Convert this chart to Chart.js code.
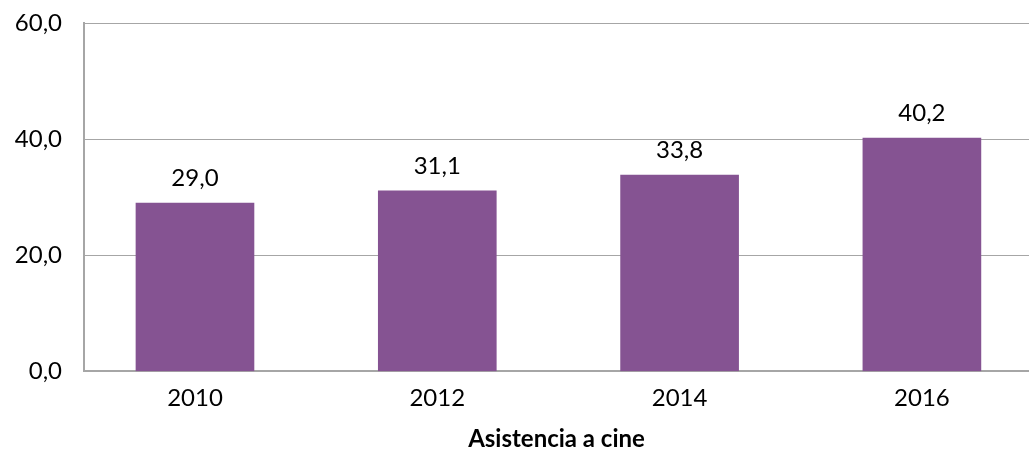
<!DOCTYPE html>
<html>
<head>
<meta charset="utf-8">
<script src="https://cdn.jsdelivr.net/npm/chart.js@4/dist/chart.umd.min.js"></script>
<style>
    html, body { margin: 0; padding: 0; background: #ffffff; overflow: hidden; }
    #wrap { width: 1029px; height: 454px; }
</style>
</head>
<body>
<div id="wrap"><canvas id="chart"></canvas></div>
<script>
// data
const years = ['2010', '2012', '2014', '2016'];
const asistencia = [29.0, 31.1, 33.8, 40.2];
const y_ticks = [0, 20, 40, 60];
const x_title = 'Asistencia a cine';

const bar_color = '#855392';
const line_color = '#a6a6a6';
const font_family = "Lato, 'Noto Sans', sans-serif";

function format_value(v) {
    return v.toFixed(1).replace('.', ',');
}

// value labels above the bars
const bar_labels = {
    id: 'bar_labels',
    afterDatasetsDraw(chart) {
        const ctx = chart.ctx;
        const meta = chart.getDatasetMeta(0);
        ctx.save();
        ctx.font = `24px ${font_family}`;
        ctx.fillStyle = '#000000';
        ctx.textAlign = 'center';
        ctx.textBaseline = 'middle';
        meta.data.forEach((bar, i) => {
            ctx.fillText(format_value(asistencia[i]), bar.x, bar.y - 25);
        });
        ctx.restore();
    }
};

const ctx = document.getElementById('chart');

new Chart(ctx, {
    type: 'bar',
    data: {
        datasets: [{
            label: x_title,
            data: asistencia.map((v, i) => ({ x: i, y: v })),
            backgroundColor: bar_color,
            borderWidth: 0,
            barThickness: 118,
        }]
    },
    options: {
        responsive: true,
        maintainAspectRatio: false,
        animation: false,
        layout: {
            padding: { top: 23, right: 0, bottom: 0, left: 0 }
        },
        plugins: {
            legend: { display: false },
            tooltip: { enabled: false },
            title: { display: false }
        },
        scales: {
            x: {
                type: 'linear',
                offset: false,
                min: -0.458,
                max: 3.442,
                afterBuildTicks: scale => {
                    scale.ticks = years.map((y, i) => ({ value: i }));
                },
                ticks: {
                    callback: (v) => years[v],
                    color: '#000000',
                    font: { family: font_family, size: 24 },
                    padding: 12,
                    maxRotation: 0,
                    autoSkip: false,
                },
                grid: { display: false, drawTicks: false, offset: false },
                border: { display: true, color: line_color, width: 2 },
                title: {
                    display: true,
                    text: x_title,
                    color: '#000000',
                    font: { family: font_family, size: 24, weight: 'bold' },
                    padding: { top: 1, bottom: 0 }
                }
            },
            y: {
                min: 0,
                max: 60,
                afterBuildTicks: scale => {
                    scale.ticks = y_ticks.map(v => ({ value: v }));
                },
                afterFit: scale => {
                    scale.width = 84;
                    scale.paddingTop = 0;
                    scale.paddingBottom = 0;
                },
                ticks: {
                    callback: (v) => format_value(v),
                    color: '#000000',
                    font: { family: font_family, size: 24 },
                    padding: 22,
                },
                grid: { color: line_color, lineWidth: 1, drawTicks: false },
                border: { display: true, color: line_color, width: 2 }
            }
        }
    },
    plugins: [bar_labels]
});
</script>
</body>
</html>
